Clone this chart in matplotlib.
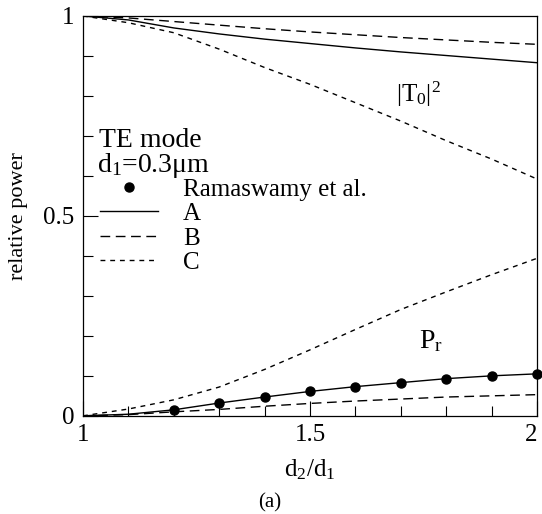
"""
Relative power vs d2/d1, TE mode (fig. a).
"""

import matplotlib
matplotlib.use("Agg")
import matplotlib.pyplot as plt
from matplotlib.ticker import MultipleLocator

plt.rcParams["font.family"] = ["Liberation Serif", "DejaVu Serif"]
plt.rcParams["mathtext.fontset"] = "custom"
plt.rcParams["mathtext.rm"] = "Liberation Serif"
plt.rcParams["mathtext.it"] = "Liberation Serif:italic"

# d2/d1
ratio = [1.0, 1.1, 1.2, 1.3, 1.4, 1.5, 1.6, 1.7, 1.8, 1.9, 2.0]

# |T0|^2 for the three methods
t0_a = [1.0, 0.990, 0.970, 0.955, 0.942, 0.931, 0.920, 0.910, 0.901, 0.892, 0.883]
t0_b = [1.0, 0.995, 0.986, 0.977, 0.968, 0.960, 0.953, 0.946, 0.940, 0.934, 0.929]
t0_c = [1.0, 0.983, 0.958, 0.917, 0.871, 0.829, 0.783, 0.737, 0.688, 0.642, 0.592]

# radiated power P_r
pr_a = [0.0, 0.004, 0.015, 0.032, 0.047, 0.061, 0.073, 0.083, 0.093, 0.100, 0.105]
pr_b = [0.0, 0.003, 0.010, 0.016, 0.024, 0.031, 0.037, 0.042, 0.047, 0.050, 0.053]
pr_c = [0.0, 0.017, 0.040, 0.072, 0.116, 0.165, 0.216, 0.266, 0.310, 0.353, 0.394]

# Ramaswamy et al.
ram_x = [1.2, 1.3, 1.4, 1.5, 1.6, 1.7, 1.8, 1.9, 2.0]
ram_y = [0.015, 0.032, 0.047, 0.061, 0.073, 0.083, 0.093, 0.100, 0.105]

FS = 18
dash_b = (0, (7, 4))
dash_c = (0, (3.5, 3.5))

fig = plt.figure(figsize=(5.42, 5.14), dpi=100)
ax = fig.add_axes([0.153, 0.191, 0.838, 0.778])

ax.plot(ram_x, ram_y, "o", color="black", markersize=6.5, label="Ramaswamy et al.",
        clip_on=False, zorder=5)
ax.plot(ratio, t0_a, "-", color="black", lw=1.0, label="A")
ax.plot(ratio, t0_b, linestyle=dash_b, color="black", lw=1.0, label="B")
ax.plot(ratio, t0_c, linestyle=dash_c, color="black", lw=1.0, label="C")
ax.plot(ratio, pr_a, "-", color="black", lw=1.0)
ax.plot(ratio, pr_b, linestyle=dash_b, color="black", lw=1.0)
ax.plot(ratio, pr_c, linestyle=dash_c, color="black", lw=1.0)

ax.set_xlim(1, 2)
ax.set_ylim(0, 1)
ax.xaxis.set_minor_locator(MultipleLocator(0.1))
ax.yaxis.set_minor_locator(MultipleLocator(0.1))
ax.set_xticks([1, 1.5, 2])
ax.set_xticklabels(["1", "1.5", "2"])
ax.set_yticks([0, 0.5, 1])
ax.set_yticklabels(["0", "0.5", "1"])
ax.tick_params(which="both", direction="in", top=False, right=False,
               labelsize=FS, width=0.8)
ax.tick_params(which="major", length=11, pad=6)
ax.tick_params(which="minor", length=7)
ax.get_xticklabels()[-1].set_horizontalalignment("right")

ax.set_xlabel(r"d$_2$/d$_1$", fontsize=FS, labelpad=8)
ax.set_ylabel("relative power", fontsize=FS - 2)
ax.yaxis.set_label_coords(-0.122, 0.5)

ax.text(0.035, 0.672, "TE mode", transform=ax.transAxes, fontsize=FS + 2)
ax.text(0.03, 0.61, r"d$_1$=0.3μm", transform=ax.transAxes, fontsize=FS + 2)
ax.text(1.69, 0.785, r"|T$_0$|$^2$", fontsize=FS)
ax.text(1.74, 0.17, r"P$_\mathrm{r}$", fontsize=FS + 2)

ax.legend(loc="upper left", bbox_to_anchor=(0.0, 0.638), frameon=False,
          fontsize=FS, handlelength=2.3, handletextpad=1.0, labelspacing=0.08,
          numpoints=1, borderaxespad=0.3)

fig.text(0.497, 0.012, "(a)", ha="center", fontsize=FS - 3)

for s in ax.spines.values():
    s.set_linewidth(0.9)

fig.savefig("out.png", dpi=100)
